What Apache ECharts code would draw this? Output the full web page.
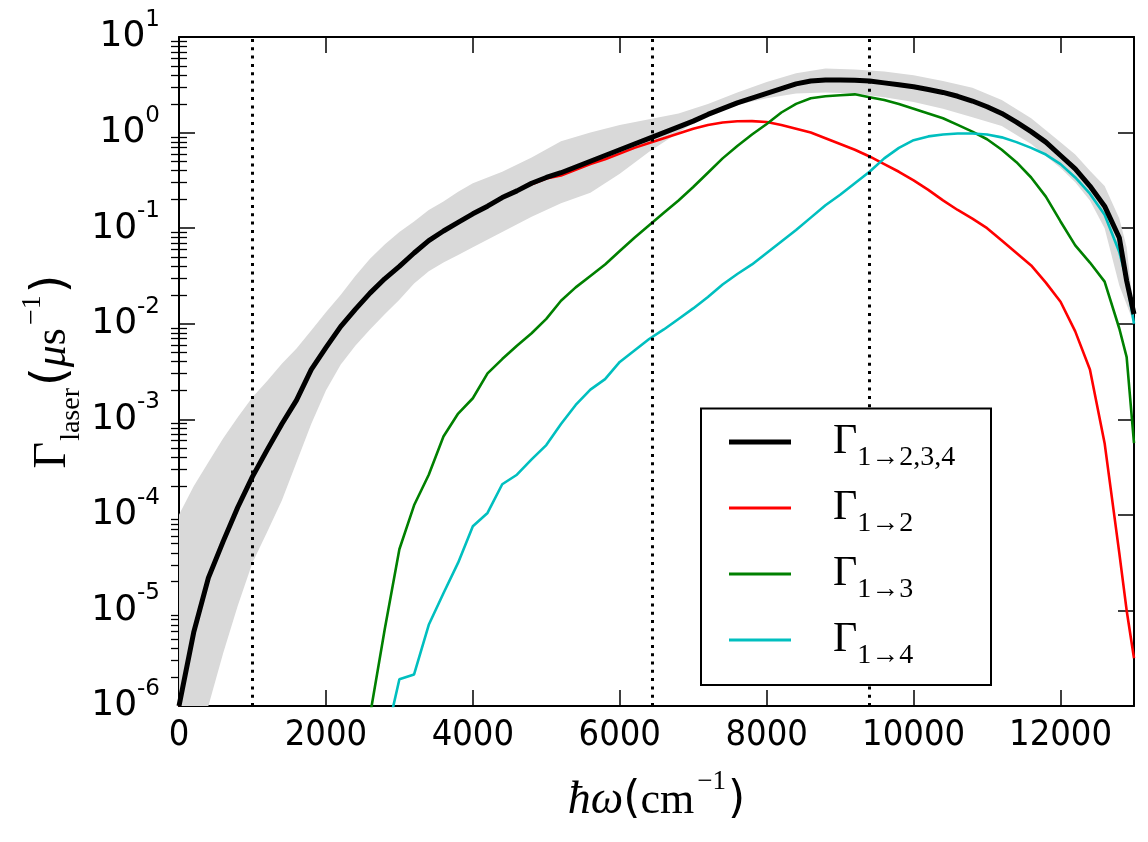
<!DOCTYPE html>
<html>
<head>
<meta charset="utf-8">
<title>Gamma laser</title>
<style>
  html, body { margin: 0; padding: 0; background: #fff; }
  #chart { width: 1148px; height: 842px; }
</style>
</head>
<body>
<div id="chart"></div>
<script src="https://cdn.jsdelivr.net/npm/echarts@6/dist/echarts.min.js"></script>
<script>
// photon energy (cm^-1)
var omega = [0, 200, 400, 600, 800, 1000, 1200, 1400, 1600, 1800, 2000, 2200, 2400, 2600, 2800, 3000,
  3200, 3400, 3600, 3800, 4000, 4200, 4400, 4600, 4800, 5000, 5200, 5400, 5600, 5800, 6000, 6200,
  6400, 6600, 6800, 7000, 7200, 7400, 7600, 7800, 8000, 8200, 8400, 8600, 8800, 9000, 9200, 9400,
  9600, 9800, 10000, 10200, 10400, 10600, 10800, 11000, 11200, 11400, 11600, 11800, 12000, 12200,
  12400, 12600, 12800, 12900, 13000];

// log10 of the rates
var logTotal = [-6.0, -5.23, -4.66, -4.28, -3.92, -3.6, -3.32, -3.05, -2.8, -2.48, -2.25, -2.03, -1.85, -1.68, -1.53, -1.4,
  -1.26, -1.13, -1.03, -0.94, -0.85, -0.77, -0.68, -0.61, -0.53, -0.47, -0.42, -0.36, -0.3, -0.24, -0.18, -0.12,
  -0.06, 0.0, 0.06, 0.12, 0.19, 0.25, 0.31, 0.36, 0.41, 0.46, 0.51, 0.54, 0.55, 0.55, 0.547, 0.54,
  0.52, 0.5, 0.48, 0.45, 0.42, 0.38, 0.33, 0.27, 0.2, 0.11, 0.01, -0.1, -0.24, -0.38,
  -0.56, -0.77, -1.1, -1.55, -1.9];

var logTo2 = [-6.0, -5.23, -4.66, -4.28, -3.92, -3.6, -3.32, -3.05, -2.8, -2.48, -2.25, -2.03, -1.85, -1.68, -1.53, -1.4,
  -1.26, -1.13, -1.03, -0.94, -0.85, -0.77, -0.68, -0.61, -0.54, -0.48, -0.45, -0.39, -0.33, -0.28, -0.22, -0.16,
  -0.11, -0.06, -0.01, 0.04, 0.08, 0.105, 0.118, 0.12, 0.11, 0.08, 0.04, 0.0, -0.06, -0.12, -0.18, -0.25,
  -0.33, -0.41, -0.5, -0.6, -0.71, -0.81, -0.9, -1.0, -1.13, -1.26, -1.39, -1.57, -1.77, -2.08,
  -2.48, -3.25, -4.4, -5.0, -5.5];

var logTo3 = [null, null, null, null, null, null, null, null, null, null, null, null, -7.0, -6.1, -5.2, -4.36,
  -3.9, -3.58, -3.18, -2.94, -2.78, -2.52, -2.37, -2.23, -2.1, -1.95, -1.76, -1.62, -1.5, -1.38, -1.24, -1.1,
  -0.97, -0.84, -0.71, -0.57, -0.42, -0.27, -0.14, -0.02, 0.09, 0.21, 0.3, 0.36, 0.38, 0.39, 0.4, 0.37,
  0.34, 0.3, 0.25, 0.2, 0.15, 0.08, 0.01, -0.07, -0.18, -0.31, -0.47, -0.67, -0.93, -1.18,
  -1.36, -1.56, -2.05, -2.35, -3.25];

var logTo4 = [null, null, null, null, null, null, null, null, null, null, null, null, null, null, -6.4, -5.72,
  -5.67, -5.15, -4.82, -4.5, -4.12, -3.98, -3.68, -3.58, -3.42, -3.27, -3.05, -2.85, -2.69, -2.58, -2.4, -2.28,
  -2.16, -2.06, -1.95, -1.84, -1.72, -1.59, -1.48, -1.38, -1.26, -1.14, -1.02, -0.89, -0.76, -0.65, -0.53, -0.41,
  -0.27, -0.16, -0.08, -0.04, -0.02, -0.01, -0.01, -0.02, -0.05, -0.1, -0.16, -0.23, -0.33, -0.47,
  -0.64, -0.86, -1.25, -1.55, -2.0];

// grey uncertainty band (log10)
var bandX = [0, 200, 400, 600, 800, 1000, 1200, 1400, 1600, 1800, 2000, 2200, 2400, 2600, 2800, 3000, 3200,
  3400, 3600, 3800, 4000, 4400, 4800, 5200, 5600, 6000, 6400, 6800, 7200, 7600, 8000, 8400, 8800, 9200,
  9600, 10000, 10400, 10800, 11200, 11600, 12000, 12200, 12400, 12600, 12800, 12900, 13000];
var bandUpper = [-4.0, -3.7, -3.45, -3.2, -2.98, -2.77, -2.6, -2.42, -2.26, -2.07, -1.88, -1.7, -1.5, -1.32, -1.17, -1.04, -0.93,
  -0.81, -0.72, -0.62, -0.53, -0.41, -0.26, -0.09, 0.0, 0.08, 0.14, 0.2, 0.3, 0.42, 0.53, 0.62, 0.67, 0.66,
  0.64, 0.6, 0.54, 0.47, 0.34, 0.15, -0.1, -0.23, -0.4, -0.56, -0.9, -1.2, -1.9];
var bandLower = [-7.5, -6.8, -6.0, -5.45, -4.95, -4.5, -4.18, -3.85, -3.45, -3.05, -2.7, -2.43, -2.23, -2.06, -1.9, -1.75, -1.58,
  -1.45, -1.36, -1.28, -1.2, -1.04, -0.88, -0.74, -0.63, -0.43, -0.2, 0.0, 0.2, 0.29, 0.36, 0.41, 0.42, 0.41,
  0.37, 0.32, 0.25, 0.16, 0.07, -0.12, -0.37, -0.52, -0.71, -1.0, -1.6, -1.8, -2.0];

// dotted vertical markers
var markerX = [1000, 6440, 9400];

var decades = [1e-6, 1e-5, 1e-4, 1e-3, 1e-2, 1e-1, 1, 10];
var minorTicks = [];
for (var d = 0; d < decades.length - 1; d++) {
  for (var m = 2; m <= 9; m++) minorTicks.push(decades[d] * m);
}

function toPairs(logs) {
  var out = [];
  for (var i = 0; i < omega.length; i++) {
    if (logs[i] != null) out.push([omega[i], Math.pow(10, logs[i])]);
  }
  return out;
}

var serifFont = "'Liberation Serif', 'DejaVu Serif', serif";
var sansFont = "'DejaVu Sans', sans-serif";

var chart = echarts.init(document.getElementById('chart'), null, { renderer: 'canvas' });

var legendRich = {
  g: { fontFamily: serifFont, fontSize: 42, lineHeight: 60, color: '#000', padding: [0, 0, 0, 37] },
  s: { fontFamily: serifFont, fontSize: 28, lineHeight: 28, color: '#000', verticalAlign: 'bottom' }
};
var legendSub = {
  'G124': '1\u21922,3,4',
  'G12': '1\u21922',
  'G13': '1\u21923',
  'G14': '1\u21924'
};

function minorAxis(pos) {
  return {
    type: 'log', position: pos, min: 1e-6, max: 10, logBase: 10,
    axisLine: { show: false },
    axisTick: { show: true, inside: true, length: 8, customValues: minorTicks, lineStyle: { color: '#000', width: 1.3 } },
    axisLabel: { show: false },
    splitLine: { show: false }
  };
}

var option = {
  animation: false,
  backgroundColor: '#fff',
  grid: { left: 179, right: 14, top: 37, bottom: 136, containLabel: false, outerBoundsMode: 'none' },
  legend: {
    data: [
      { name: 'G124', icon: 'path://M0,0H62V5H0Z' },
      { name: 'G12', icon: 'path://M0,0H62V3H0Z' },
      { name: 'G13', icon: 'path://M0,0H62V3H0Z' },
      { name: 'G14', icon: 'path://M0,0H62V3H0Z' }
    ],
    orient: 'vertical',
    left: 729,
    top: 421,
    padding: 0,
    itemWidth: 62,
    itemHeight: 20,
    itemGap: 15,
    z: 110,
    selectedMode: false,
    formatter: function (name) {
      return '{g|\u0393}{s|' + legendSub[name] + '}';
    },
    textStyle: { rich: legendRich }
  },
  graphic: [{
    type: 'rect',
    z: 100,
    shape: { x: 701, y: 408.5, width: 290, height: 276.5 },
    style: { fill: '#fff', stroke: '#000', lineWidth: 2 }
  }],
  xAxis: [{
    type: 'value', position: 'bottom', min: 0, max: 13000, interval: 2000,
    axisLine: { show: true, onZero: false, lineStyle: { color: '#000', width: 2 } },
    axisTick: { show: true, inside: true, length: 16, lineStyle: { color: '#000', width: 1.5 } },
    axisLabel: {
      show: true, color: '#000', fontSize: 36, margin: 12, showMaxLabel: false,
      fontFamily: "'DejaVu Sans Condensed', 'Liberation Sans', sans-serif",
      formatter: function (v) { return String(v); }
    },
    splitLine: { show: false },
    name: '{h|\u0127\u03c9}{p|(}{c|cm}{sup|\u22121}{p|)}',
    nameLocation: 'middle',
    nameGap: 62,
    nameMoveOverlap: false,
    nameTextStyle: {
      rich: {
        h: { fontFamily: serifFont, fontStyle: 'italic', fontSize: 46, lineHeight: 66, color: '#000' },
        p: { fontFamily: sansFont, fontSize: 44, lineHeight: 44, color: '#000' },
        c: { fontFamily: serifFont, fontSize: 44, lineHeight: 44, color: '#000' },
        sup: { fontFamily: serifFont, fontSize: 27, lineHeight: 27, color: '#000', verticalAlign: 'top', padding: [0, 2, 0, 3] }
      }
    }
  }, {
    type: 'value', position: 'top', min: 0, max: 13000, interval: 2000,
    axisLine: { show: true, onZero: false, lineStyle: { color: '#000', width: 2 } },
    axisTick: { show: true, inside: true, length: 16, lineStyle: { color: '#000', width: 1.5 } },
    axisLabel: { show: false },
    splitLine: { show: false }
  }],
  yAxis: [{
    type: 'log', position: 'left', min: 1e-6, max: 10, logBase: 10, splitNumber: 7,
    axisLine: { show: true, onZero: false, lineStyle: { color: '#000', width: 2 } },
    axisTick: { show: true, inside: true, length: 16, customValues: decades, lineStyle: { color: '#000', width: 1.5 } },
    axisLabel: {
      show: true, margin: 19, customValues: decades,
      formatter: function (v) {
        var e = Math.round(Math.log(v) / Math.LN10);
        return '{b|10}{e|' + e + '}';
      },
      rich: {
        b: { fontFamily: sansFont, fontSize: 36, lineHeight: 57, color: '#000' },
        e: { fontFamily: sansFont, fontSize: 23, lineHeight: 23, color: '#000', verticalAlign: 'top' }
      }
    },
    splitLine: { show: false },
    name: '{g|\u0393}{sub|laser}{p|(}{m|\u03bc}{s|s}{sup|\u22121}{p|)}',
    nameLocation: 'middle',
    nameRotate: 90,
    nameGap: 85,
    nameMoveOverlap: false,
    nameTextStyle: {
      rich: {
        g: { fontFamily: serifFont, fontSize: 46, lineHeight: 82, color: '#000' },
        sub: { fontFamily: serifFont, fontSize: 28, lineHeight: 28, color: '#000', verticalAlign: 'bottom', padding: [0, 2, 8, 1] },
        p: { fontFamily: sansFont, fontSize: 48, lineHeight: 48, color: '#000' },
        m: { fontFamily: serifFont, fontStyle: 'italic', fontSize: 44, lineHeight: 44, color: '#000' },
        s: { fontFamily: serifFont, fontSize: 44, lineHeight: 44, color: '#000' },
        sup: { fontFamily: serifFont, fontSize: 28, lineHeight: 28, color: '#000', verticalAlign: 'top', padding: [7, 2, 0, 3] }
      }
    }
  }, minorAxis('left'), {
    type: 'log', position: 'right', min: 1e-6, max: 10, logBase: 10,
    axisLine: { show: true, onZero: false, lineStyle: { color: '#000', width: 2 } },
    axisTick: { show: true, inside: true, length: 16, customValues: decades, lineStyle: { color: '#000', width: 1.5 } },
    axisLabel: { show: false },
    splitLine: { show: false }
  }, minorAxis('right')],
  series: [{
    name: 'band',
    type: 'custom',
    clip: true,
    z: 1,
    silent: true,
    data: [[0, 1]],
    encode: { x: 0, y: 1 },
    renderItem: function (params, api) {
      var pts = [];
      for (var i = 0; i < bandX.length; i++) pts.push(api.coord([bandX[i], Math.pow(10, bandUpper[i])]));
      for (var j = bandX.length - 1; j >= 0; j--) pts.push(api.coord([bandX[j], Math.pow(10, bandLower[j])]));
      return { type: 'polygon', shape: { points: pts }, style: { fill: '#d9d9d9', stroke: null } };
    }
  }, {
    name: 'G12', type: 'line', data: toPairs(logTo2), showSymbol: false, symbol: 'none',
    color: '#ff0000', lineStyle: { color: '#ff0000', width: 2.6 }, z: 3
  }, {
    name: 'G13', type: 'line', data: toPairs(logTo3), showSymbol: false, symbol: 'none',
    color: '#008000', lineStyle: { color: '#008000', width: 2.6 }, z: 3
  }, {
    name: 'G14', type: 'line', data: toPairs(logTo4), showSymbol: false, symbol: 'none',
    color: '#00bfbf', lineStyle: { color: '#00bfbf', width: 2.6 }, z: 3
  }, {
    name: 'G124', type: 'line', data: toPairs(logTotal), showSymbol: false, symbol: 'none',
    color: '#000000', lineStyle: { color: '#000000', width: 5 }, z: 4,
    markLine: {
      silent: true,
      symbol: ['none', 'none'],
      label: { show: false },
      lineStyle: { color: '#000', type: [3, 5.3], width: 3 },
      data: markerX.map(function (v) { return { xAxis: v }; })
    }
  }]
};

chart.setOption(option);
</script>
</body>
</html>
